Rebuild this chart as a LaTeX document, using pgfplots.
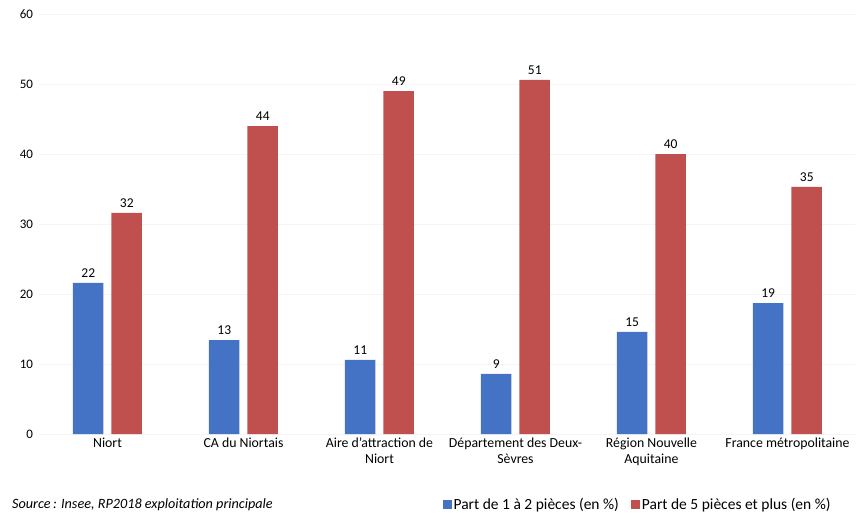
\documentclass[border=0pt]{standalone}
\usepackage{pgfplots}
\pgfplotsset{compat=1.18}
\usepackage{pgfplotstable}
\usepackage{fontspec}
\setmainfont{Carlito}
\definecolor{cblue}{RGB}{68,114,196}
\definecolor{cred}{RGB}{192,80,77}
\pgfplotstableread{
x b bl r rl
0 21.6 22 31.6 32
1 13.4 13 44.0 44
2 10.6 11 49.0 49
3 8.6 9 50.6 51
4 14.6 15 40.0 40
5 18.7 19 35.3 35
}\datatab
\begin{document}
\begin{tikzpicture}
\begin{axis}[
  at={(0,0)}, anchor=south west,
  scale only axis, width=816pt, height=420pt,
  clip=false,
  ybar=8pt, bar width=30.5pt,
  xmin=-0.5, xmax=5.5, ymin=0, ymax=60,
  ytick={0,10,...,60},
  xtick={0,...,5},
  xticklabels={Niort, CA du Niortais, Aire d{\char"27}attraction de\\Niort, Département des Deux-\\Sèvres, Région Nouvelle\\Aquitaine, France métropolitaine},
  xticklabel style={align=center, font=\fontsize{13.8}{16.5}\selectfont, text depth=0pt},
  yticklabel style={font=\fontsize{13}{15}\selectfont},
  /pgf/number format/assume math mode=true,
  axis line style={draw=none},
  major tick length=0pt,
  ymajorgrids, grid style={gray!9, line width=0.8pt},
  xtick pos=left, ytick pos=left,
  yticklabel shift=3pt,
  point meta=explicit,
  nodes near coords={\pgfmathprintnumber[fixed,precision=0]{\pgfplotspointmeta}},
  nodes near coords style={font=\fontsize{13.5}{15}\selectfont, black, inner sep=2pt},
  every node near coord/.append style={yshift=3pt},
  legend style={at={(0.733,-0.169)}, anchor=center, draw=none, fill=none,
    legend columns=2, font=\fontsize{15.5}{17}\selectfont,
    /tikz/every even column/.append style={column sep=10pt}},
  legend image code/.code={\fill[#1] (0pt,-4.5pt) rectangle (9pt,4.5pt);},
]
\addplot[fill=cblue, draw=none] table[x=x, y=b, meta=bl] {\datatab};
\addplot[fill=cred, draw=none] table[x=x, y=r, meta=rl] {\datatab};
\legend{Part de 1 à 2 pièces (en \%), Part de 5 pièces et plus (en \%)}
\end{axis}
\node[anchor=west, font=\fontsize{14.2}{16}\selectfont\itshape, inner sep=0pt] at (-27.5pt,-71pt) {Source\,: Insee, RP2018 exploitation principale};
\pgfresetboundingbox
\path[use as bounding box] (-39.5pt,-81pt) rectangle (823.5pt,434pt);
\end{tikzpicture}
\end{document}
